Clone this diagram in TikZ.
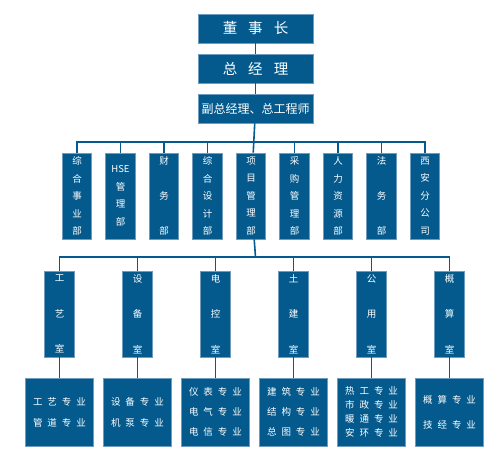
\documentclass[tikz,border=0pt]{standalone}
\usepackage{fontspec}
\setmainfont{Noto Sans CJK SC}
\usepackage{xcolor}
\usepackage{tikz}
\usetikzlibrary{calc}
\definecolor{boxblue}{RGB}{4,90,141}
\definecolor{boxedge}{RGB}{110,155,190}
\tikzset{%
  head/.style  = {draw=boxedge, fill=boxblue, text=white, line width=0.8pt,
    minimum width = 115pt, minimum height = 29pt, inner sep=0pt},
  dept/.style  = {draw=boxedge, fill=boxblue, text=white, line width=0.8pt,
    minimum width = 29.5pt, minimum height = 86pt, inner sep=0pt,
    align=center, font=\fontsize{9.5}{17.5}\selectfont}, % Department
  room/.style  = {dept, font=\fontsize{9.5}{35.5}\selectfont}, % Office
  spec/.style  = {draw=boxedge, fill=boxblue, text=white, line width=0.8pt,
    minimum width = 68pt, minimum height = 68pt, inner sep=0pt,
    align=center, font=\fontsize{9.5}{21}\selectfont}, % Speciality
  link/.style  = {draw=boxblue, line width=1.6pt}
}
\newcommand{\fourc}[4]{#1\hspace{5pt}#2\hspace{5pt}#3\hspace{5pt}#4}
\newcommand{\threec}[3]{#1\hspace{11pt}#2\hspace{11pt}#3}

\begin{document}
\begin{tikzpicture}[x=1pt, y=1pt, node distance=40pt]
        \useasboundingbox (0,0) rectangle (500,459);
        \draw
            node [head] at (255.5,430.5) (chair) {\fontsize{14.5}{16}\selectfont\threec 董事长}
            node [head, below of=chair] (gm) {\fontsize{14.5}{16}\selectfont\threec 总经理}
            node [head, below of=gm] (vice) {\fontsize{12}{14}\selectfont 副总经理、总工程师};

        % departments
        \draw
            node [dept] at (77,263) (zh) {综\\合\\事\\业\\部}
            node [dept, right of=zh, node distance=43.5pt] (hse) {HSE\\管\\理\\部}
            node [dept, right of=hse, node distance=43.5pt, font=\fontsize{9.5}{35}\selectfont] (cw) {财\\务\\部}
            node [dept, right of=cw, node distance=43.5pt] (sj) {综\\合\\设\\计\\部}
            node [dept, right of=sj, node distance=43.5pt] (xm) {项\\目\\管\\理\\部}
            node [dept, right of=xm, node distance=43.5pt] (cg) {采\\购\\管\\理\\部}
            node [dept, right of=cg, node distance=43.5pt] (rl) {人\\力\\资\\源\\部}
            node [dept, right of=rl, node distance=43.5pt, font=\fontsize{9.5}{35}\selectfont] (fw) {法\\务\\部}
            node [dept, right of=fw, node distance=43.5pt] (xa) {西\\安\\分\\公\\司};

        % offices
        \draw
            node [room] at (59.5,145) (gy) {工\\艺\\室}
            node [room, right of=gy, node distance=78pt] (sb) {设\\备\\室}
            node [room, right of=sb, node distance=78pt] (dk) {电\\控\\室}
            node [room, right of=dk, node distance=78pt] (tj) {土\\建\\室}
            node [room, right of=tj, node distance=78pt] (gyong) {公\\用\\室}
            node [room, right of=gyong, node distance=78pt] (gs) {概\\算\\室};

        % specialities
        \draw
            node [spec, below of=gy, node distance=98pt] (gyz) {\fourc 工艺专业\\\fourc 管道专业}
            node [spec, below of=sb, node distance=98pt] (sbz) {\fourc 设备专业\\\fourc 机泵专业}
            node [spec, below of=dk, node distance=98pt, font=\fontsize{9.5}{20}\selectfont] (dkz) {\fourc 仪表专业\\\fourc 电气专业\\\fourc 电信专业}
            node [spec, below of=tj, node distance=98pt, font=\fontsize{9.5}{20}\selectfont] (tjz) {\fourc 建筑专业\\\fourc 结构专业\\\fourc 总图专业}
            node [spec, below of=gyong, node distance=98pt, font=\fontsize{9.5}{14}\selectfont] (gyongz) {\fourc 热工专业\\\fourc 市政专业\\\fourc 暖通专业\\\fourc 安环专业}
            node [spec, below of=gs, node distance=98pt, font=\fontsize{9.5}{25}\selectfont] (gsz) {\fourc 概算专业\\\fourc 技经专业};

        \coordinate (bus2) at (255.5,317);
        \coordinate (bus3) at (255.5,202);

        \draw[link] (chair) -- (gm);
        \draw[link] (gm) -- (vice);
        \draw[link] (vice) -- (xm);
        \draw[link] (zh.north) |- (bus2);
        \draw[link] (hse.north) |- (bus2);
        \draw[link] (cw.north) |- (bus2);
        \draw[link] (sj.north) |- (bus2);
        \draw[link] (cg.north) |- (bus2);
        \draw[link] (rl.north) |- (bus2);
        \draw[link] (fw.north) |- (bus2);
        \draw[link] (xa.north) |- (bus2);
        \draw[link] (xm) -- (bus3);
        \draw[link] (gy.north) |- (bus3);
        \draw[link] (sb.north) |- (bus3);
        \draw[link] (dk.north) |- (bus3);
        \draw[link] (tj.north) |- (bus3);
        \draw[link] (gyong.north) |- (bus3);
        \draw[link] (gs.north) |- (bus3);
        \draw[link] (gy.south) -- (gy.south |- gyz.north);
        \draw[link] (sb.south) -- (sb.south |- sbz.north);
        \draw[link] (dk.south) -- (dk.south |- dkz.north);
        \draw[link] (tj.south) -- (tj.south |- tjz.north);
        \draw[link] (gyong.south) -- (gyong.south |- gyongz.north);
        \draw[link] (gs.south) -- (gs.south |- gsz.north);
\end{tikzpicture}
\end{document}
